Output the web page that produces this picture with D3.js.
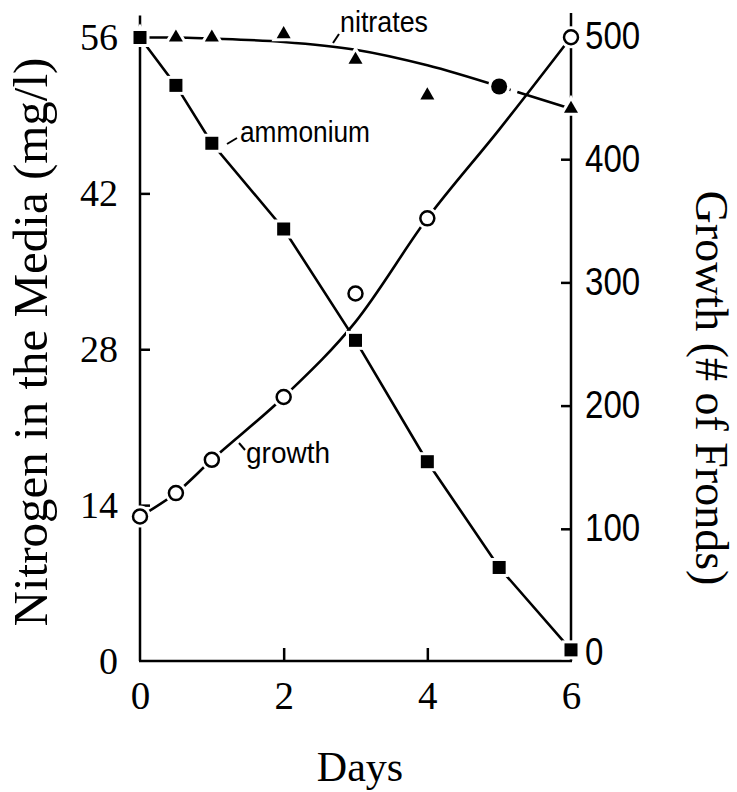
<!DOCTYPE html>
<html lang="en">
<head>
<meta charset="UTF-8">
<title>Nitrogen and growth</title>
<script src="https://d3js.org/d3.v7.min.js"></script>
<style>
  body { margin: 0; background: #fff; }
</style>
</head>
<body>
<script>
// values
const ammoniumDays = [0, 0.5, 1, 2, 3, 4, 5, 6];
const ammonium = [56, 51.7, 46.5, 38.8, 28.8, 17.9, 8.4, 1.0];

const nitrateDays = [0, 0.5, 1, 2, 3, 4, 6];
const nitrates = [56, 56, 56, 56.3, 54.0, 50.8, 49.6];
const nitrateDotDays = [5];
const nitrateDots = [51.6];
// hand-drawn fitted curve for nitrates
const nitrateFitDays = [0, 0.5, 1, 2, 3, 4, 5];
const nitrateFit = [56, 56, 55.9, 55.6, 54.9, 53.5, 51.6];
const nitrateTailDays = [5, 6];
const nitrateTail = [51.6, 49.6];

const growthDays = [0, 0.5, 1, 2, 3, 4, 6];
const growth = [110, 129, 156, 207, 291, 352, 499];
const growthFitDays = [0, 0.5, 1, 2, 3, 4, 5, 6];
const growthFit = [110, 129, 156, 207, 268, 352, 424, 499];

const dayTicks = [0, 2, 4, 6];
const nitrogenTicks = [0, 14, 28, 42, 56];
const growthTicks = [0, 100, 200, 300, 400, 500];

const W = 737, H = 792;
const serif = "'Liberation Serif', 'Times New Roman', serif";
const sans = "'Liberation Sans', Arial, sans-serif";

const svg = d3.select("body").append("svg")
    .attr("width", W).attr("height", H);

const x = d3.scaleLinear().domain([0, 6]).range([140, 571]);
const yN = d3.scaleLinear().domain([0, 56]).range([661, 37.5]);
const yG = d3.scaleLinear().domain([0, 500]).range([652, 36]);

// axes (ticks point inward)
const gLeft = svg.append("g").attr("transform", `translate(${x(0)},0)`)
    .call(d3.axisLeft(yN).tickValues(nitrogenTicks).tickFormat(d3.format("d"))
        .tickSize(-10).tickSizeOuter(0).tickPadding(22));
const gBottom = svg.append("g").attr("transform", `translate(0,${yN(0)})`)
    .call(d3.axisBottom(x).tickValues(dayTicks).tickFormat(d3.format("d"))
        .tickSize(-13).tickSizeOuter(0).tickPadding(20));
const gRight = svg.append("g").attr("transform", `translate(${x(6)},0)`)
    .call(d3.axisRight(yG).tickValues(growthTicks).tickFormat(d3.format("d"))
        .tickSize(-10).tickSizeOuter(0).tickPadding(14));

[gLeft, gBottom, gRight].forEach(g => {
    g.select(".domain").remove();
    g.selectAll(".tick line").attr("stroke", "#000").attr("stroke-width", 2.5);
});
gLeft.selectAll(".tick line").filter(d => d === 0 || d === 56).remove();
gBottom.selectAll(".tick line").filter(d => d === 0 || d === 6).remove();
gRight.selectAll(".tick line").filter(d => d === 0 || d === 500).remove();

gLeft.selectAll("text").attr("font-family", serif).attr("font-size", 38).attr("fill", "#000");
gBottom.selectAll("text").attr("font-family", serif).attr("font-size", 39).attr("fill", "#000");
gRight.selectAll("text").attr("font-family", sans).attr("font-size", 38).attr("fill", "#000")
    .each(function () {
        const w = this.getComputedTextLength();
        d3.select(this).attr("textLength", w * 0.87).attr("lengthAdjust", "spacingAndGlyphs");
    });

// axis lines
svg.append("line").attr("x1", x(0)).attr("x2", x(0)).attr("y1", yN(56) - 22).attr("y2", yN(0))
    .attr("stroke", "#000").attr("stroke-width", 2.5);
svg.append("line").attr("x1", x(6)).attr("x2", x(6)).attr("y1", yG(500) - 23).attr("y2", yN(0))
    .attr("stroke", "#000").attr("stroke-width", 2.5);
svg.append("line").attr("x1", x(0) - 1).attr("x2", x(6) + 1).attr("y1", yN(0)).attr("y2", yN(0))
    .attr("stroke", "#000").attr("stroke-width", 2.5);

// lines
const lineN = d3.line().x(d => x(d[0])).y(d => yN(d[1]));
const lineG = d3.line().x(d => x(d[0])).y(d => yG(d[1]));

svg.append("path").datum(d3.zip(nitrateFitDays, nitrateFit))
    .attr("d", lineN.curve(d3.curveMonotoneX))
    .attr("fill", "none").attr("stroke", "#000").attr("stroke-width", 2.6);
svg.append("path").datum(d3.zip(nitrateTailDays, nitrateTail))
    .attr("d", d3.line().x(d => x(d[0])).y(d => yN(d[1])))
    .attr("fill", "none").attr("stroke", "#000").attr("stroke-width", 2.6)
    .attr("stroke-dasharray", "12,7,60");
svg.append("path").datum(d3.zip(ammoniumDays, ammonium))
    .attr("d", d3.line().x(d => x(d[0])).y(d => yN(d[1])))
    .attr("fill", "none").attr("stroke", "#000").attr("stroke-width", 2.6);
svg.append("path").datum(d3.zip(growthFitDays, growthFit))
    .attr("d", lineG.curve(d3.curveMonotoneX))
    .attr("fill", "none").attr("stroke", "#000").attr("stroke-width", 2.6);

// markers (white halo gives the gaps of the original drawing)
const tri = d3.symbol(d3.symbolTriangle, 85);
svg.append("g").selectAll("path").data(d3.zip(nitrateDays, nitrates)).join("path")
    .attr("d", tri)
    .attr("transform", d => `translate(${x(d[0])},${yN(d[1])})`)
    .attr("fill", "#000").attr("stroke", "#fff").attr("stroke-width", 6)
    .attr("paint-order", "stroke");

svg.append("g").selectAll("circle").data(d3.zip(nitrateDotDays, nitrateDots)).join("circle")
    .attr("cx", d => x(d[0])).attr("cy", d => yN(d[1])).attr("r", 8)
    .attr("fill", "#000").attr("stroke", "#fff").attr("stroke-width", 6)
    .attr("paint-order", "stroke");

svg.append("g").selectAll("rect").data(d3.zip(ammoniumDays, ammonium)).join("rect")
    .attr("x", d => x(d[0]) - 6.5).attr("y", d => yN(d[1]) - 6.5)
    .attr("width", 13).attr("height", 13)
    .attr("fill", "#000").attr("stroke", "#fff").attr("stroke-width", 6)
    .attr("paint-order", "stroke");

const gDots = svg.append("g").selectAll("g").data(d3.zip(growthDays, growth)).join("g")
    .attr("transform", d => `translate(${x(d[0])},${yG(d[1])})`);
gDots.append("circle").attr("r", 11).attr("fill", "#fff");
gDots.append("circle").attr("r", 7)
    .attr("fill", "#fff").attr("stroke", "#000").attr("stroke-width", 2.5);

// series labels with leader ticks
const lab = (t, tx, ty, w, lx1, ly1, lx2, ly2) => {
    svg.append("text").attr("x", tx).attr("y", ty).text(t)
        .attr("font-family", sans).attr("font-size", 30).attr("fill", "#000")
        .attr("textLength", w).attr("lengthAdjust", "spacingAndGlyphs");
    svg.append("line").attr("x1", lx1).attr("y1", ly1).attr("x2", lx2).attr("y2", ly2)
        .attr("stroke", "#000").attr("stroke-width", 2);
};
lab("nitrates", 340, 32, 88, 333, 43, 339, 34);
lab("ammonium", 240, 142, 130, 227, 144, 237, 138);
lab("growth", 246, 463, 84, 239, 443, 245, 450);

// axis titles
svg.append("text")
    .attr("transform", "translate(47,342) rotate(-90)")
    .attr("text-anchor", "middle")
    .attr("font-family", serif).attr("font-size", 49).attr("fill", "#000")
    .text("Nitrogen in the Media (mg/l)");
svg.append("text")
    .attr("transform", "translate(696,388) rotate(90)")
    .attr("text-anchor", "middle")
    .attr("font-family", serif).attr("font-size", 46).attr("fill", "#000")
    .text("Growth (# of Fronds)");
svg.append("text")
    .attr("x", 360).attr("y", 781)
    .attr("text-anchor", "middle")
    .attr("font-family", serif).attr("font-size", 42).attr("fill", "#000")
    .text("Days");
</script>
</body>
</html>
